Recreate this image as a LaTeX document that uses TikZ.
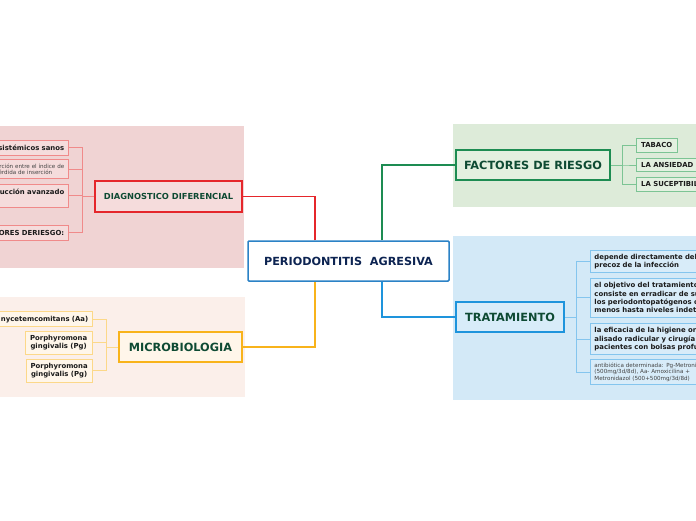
\documentclass[tikz,border=0pt]{standalone}
\usepackage{fontspec}
\setmainfont{DejaVu Sans}
\definecolor{bgpink}{HTML}{F0D3D3}
\definecolor{bgpeach}{HTML}{FBEFEA}
\definecolor{bggreen}{HTML}{DDEBD9}
\definecolor{bgblue}{HTML}{D3E9F7}
\definecolor{cred}{HTML}{E5262B}
\definecolor{corange}{HTML}{F8B31B}
\definecolor{cgreen}{HTML}{1D8C52}
\definecolor{cblue}{HTML}{1E94DC}
\definecolor{ccentral}{HTML}{2B82C6}
\definecolor{tgreen}{HTML}{0E4A33}
\definecolor{tnavy}{HTML}{0D2452}
\definecolor{kred}{HTML}{F08A8A}
\definecolor{kredfill}{HTML}{F5DCDC}
\definecolor{korange}{HTML}{FCD889}
\definecolor{korangefill}{HTML}{FFF6EA}
\definecolor{kgreen}{HTML}{7CC494}
\definecolor{kgreenfill}{HTML}{E3F0E0}
\definecolor{kblue}{HTML}{84C5EE}
\definecolor{kbluefill}{HTML}{D8ECF9}
\definecolor{ktext}{HTML}{1A1A1A}
\definecolor{ksmall}{HTML}{444444}
\tikzset{
  mainbox/.style={draw, line width=2pt, inner sep=0pt, text=tgreen,
    font=\fontsize{11.3}{13}\selectfont\bfseries},
  kid/.style={draw, line width=0.9pt, inner xsep=4pt, inner ysep=1pt, text=ktext,
    font=\fontsize{6.9}{8.4}\selectfont\bfseries},
  kidsmall/.style={kid, text=ksmall, font=\fontsize{5.6}{6.2}\selectfont},
  redk/.style={kid, draw=kred, fill=kredfill},
  orak/.style={kid, draw=korange, fill=korangefill},
  grek/.style={kid, draw=kgreen, fill=kgreenfill},
  bluk/.style={kid, draw=kblue, fill=kbluefill},
  mainline/.style={line width=1.2pt},
  kidline/.style={line width=0.9pt},
}
\begin{document}
\begin{tikzpicture}[x=1pt,y=-1pt]
\useasboundingbox (0,0) rectangle (696,520);
\clip (0,0) rectangle (696,520);
\fill[white] (0,0) rectangle (696,520);
% background areas
\fill[bgpink] (0,126) rectangle (244,268);
\fill[bgpeach] (0,297) rectangle (245,397);
\fill[bggreen] (453,124) rectangle (696,207);
\fill[bgblue] (453,236) rectangle (696,400);

% central
\node[draw=ccentral, line width=1.5pt, fill=white, minimum width=201pt, minimum height=40pt,
  inner sep=0pt, rounded corners=1pt, text=tnavy, font=\fontsize{11.2}{13}\selectfont\bfseries]
  (c) at (348.5,261) {PERIODONTITIS\ \ AGRESIVA};

% main branches
\node[mainbox, draw=cred, fill=kredfill, minimum width=147pt, minimum height=31pt,
  font=\fontsize{8.3}{9}\selectfont\bfseries] (dd) at (168.5,196.5) {DIAGNOSTICO DIFERENCIAL};
\node[mainbox, draw=corange, fill=korangefill, minimum width=123pt, minimum height=30pt]
  (mb) at (180.5,347) {MICROBIOLOGIA};
\node[mainbox, draw=cgreen, fill=kgreenfill, minimum width=154pt, minimum height=30pt]
  (fr) at (533,165) {FACTORES DE RIESGO};
\node[mainbox, draw=cblue, fill=kbluefill, minimum width=108pt, minimum height=30pt]
  (tr) at (510,317) {TRATAMIENTO};

\draw[mainline, cred] ([xshift=-33.5pt]c.north) |- (dd.east);
\draw[mainline, cgreen] ([xshift=33.5pt]c.north) |- (fr.west);
\draw[mainline, corange] ([xshift=-33.5pt]c.south) |- (mb.east);
\draw[mainline, cblue] ([xshift=33.5pt]c.south) |- (tr.west);

% diagnostico children
\node[redk, anchor=east, text width=110pt, align=right, minimum height=15pt] (d1) at (68.7,147.7) {sistémicos sanos};
\node[redk, kidsmall, draw=kred, fill=kredfill, anchor=east, text width=110pt, align=right, minimum height=18.6pt] (d2) at (68.7,169) {rción entre el índice de\\érdida de inserción\hspace*{12pt}};
\node[redk, anchor=east, text width=110pt, align=right, minimum height=23pt] (d3) at (68.7,195.5) {ucción avanzado\\\mbox{}};
\node[redk, anchor=east, text width=110pt, align=right, minimum height=15pt] (d4) at (68.7,232.5) {ORES DERIESGO:};
\foreach \k in {d1,d2,d3,d4}
  \draw[kidline, kred] (dd.west) -- ++(-12pt,0) |- (\k.east);

% microbiologia children
\node[orak, anchor=east, text width=110pt, align=right, minimum height=15pt] (m1) at (92.7,319.2) {nycetemcomitans (Aa)};
\node[orak, anchor=east, align=center, minimum height=23pt, inner xsep=5pt] (m2) at (92.7,342.5) {Porphyromona\\gingivalis (Pg)};
\node[orak, anchor=east, align=center, minimum height=23pt, inner xsep=4.5pt] (m3) at (92.7,370.7) {Porphyromona\\gingivalis (Pg)};
\foreach \k in {m1,m2,m3}
  \draw[kidline, korange] (mb.west) -- ++(-11.7pt,0) |- (\k.east);

% factores children
\node[grek, anchor=west, minimum height=14pt, inner xsep=5pt] (f1) at (635.7,145.3) {TABACO};
\node[grek, anchor=west, minimum height=13.4pt, inner xsep=5pt] (f2) at (635.7,165) {LA ANSIEDAD};
\node[grek, anchor=west, minimum height=13.7pt, inner xsep=5pt] (f3) at (635.7,184.2) {LA SUCEPTIBILIDAD};
\foreach \k in {f1,f2,f3}
  \draw[kidline, kgreen] (fr.east) -- ++(11.7pt,0) |- (\k.west);

% tratamiento children
\node[bluk, anchor=north west, text width=220pt, align=left, minimum height=21.7pt] (t1) at (590,250) {depende directamente del diagnóstico\\precoz de la infección};
\node[bluk, anchor=north west, text width=220pt, align=left, minimum height=39pt] (t2) at (590,277.7) {el objetivo del tratamiento\\consiste en erradicar de su\\los periodontopatógenos o\\menos hasta niveles indetectables};
\node[bluk, anchor=north west, text width=220pt, align=left, minimum height=30.7pt] (t3) at (590,323.3) {la eficacia de la higiene oral\\alisado radicular y cirugía\\pacientes con bolsas profundas};
\node[bluk, kidsmall, draw=kblue, fill=kbluefill, anchor=north west, text width=220pt, align=left, minimum height=25pt] (t4) at (590,359.3) {antibiótica determinada: Pg-Metronidazol\\(500mg/3d/8d), Aa- Amoxicilina +\\Metronidazol (500+500mg/3d/8d)};
\foreach \k in {t1,t2,t3,t4}
  \draw[kidline, kblue] (tr.east) -- ++(11pt,0) |- (\k.west);
\end{tikzpicture}
\end{document}
